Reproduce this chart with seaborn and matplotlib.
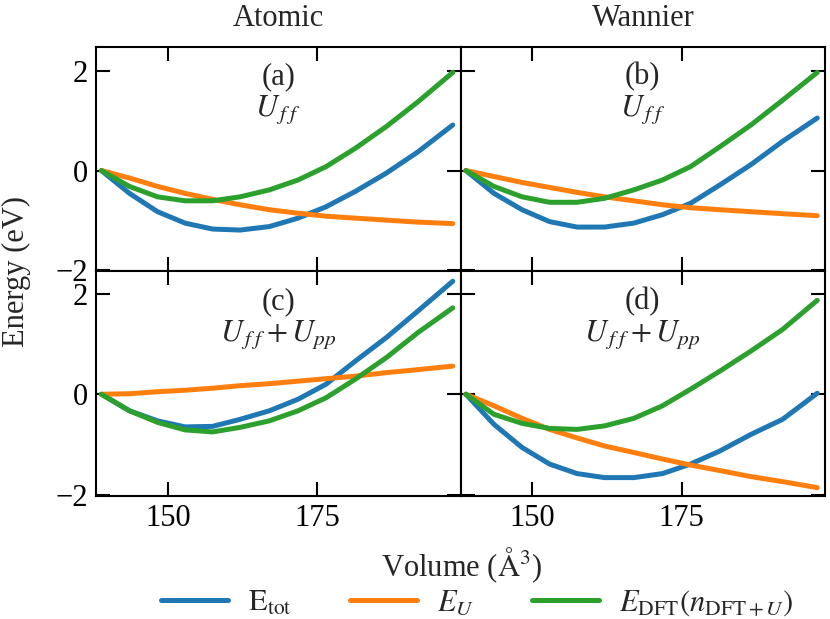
import numpy as np
import pandas as pd
import matplotlib
matplotlib.use("Agg")
import matplotlib.pyplot as plt
import seaborn as sns

# ---------------- data ----------------
volume = [138.9, 143.6, 148.3, 152.9, 157.5, 162.1, 167.0, 171.8, 176.5, 181.4, 186.6, 191.9, 197.7]

# (a) Atomic, U_ff
a_tot = [0.0, -0.46, -0.83, -1.06, -1.18, -1.20, -1.13, -0.96, -0.73, -0.42, -0.05, 0.38, 0.92]
a_U   = [0.0, -0.15, -0.32, -0.46, -0.58, -0.69, -0.79, -0.86, -0.92, -0.96, -1.00, -1.04, -1.07]
a_dft = [0.0, -0.32, -0.53, -0.61, -0.61, -0.53, -0.39, -0.19, 0.08, 0.45, 0.89, 1.39, 1.98]

# (b) Wannier, U_ff
b_tot = [0.0, -0.46, -0.79, -1.03, -1.14, -1.14, -1.06, -0.89, -0.66, -0.29, 0.12, 0.59, 1.06]
b_U   = [0.0, -0.12, -0.24, -0.34, -0.44, -0.53, -0.61, -0.69, -0.75, -0.79, -0.83, -0.87, -0.91]
b_dft = [0.0, -0.32, -0.53, -0.64, -0.64, -0.56, -0.39, -0.19, 0.08, 0.48, 0.92, 1.42, 1.98]

# (c) Atomic, U_ff + U_pp
c_tot = [0.0, -0.33, -0.53, -0.65, -0.64, -0.50, -0.33, -0.10, 0.20, 0.66, 1.13, 1.66, 2.25]
c_U   = [0.0, 0.01, 0.05, 0.08, 0.12, 0.17, 0.21, 0.26, 0.31, 0.36, 0.43, 0.49, 0.56]
c_dft = [0.0, -0.33, -0.56, -0.71, -0.75, -0.66, -0.53, -0.33, -0.07, 0.30, 0.73, 1.23, 1.72]

# (d) Wannier, U_ff + U_pp
d_tot = [0.0, -0.60, -1.06, -1.39, -1.58, -1.66, -1.66, -1.58, -1.39, -1.13, -0.80, -0.50, 0.02]
d_U   = [0.0, -0.23, -0.48, -0.70, -0.87, -1.03, -1.16, -1.29, -1.41, -1.52, -1.64, -1.74, -1.86]
d_dft = [0.0, -0.40, -0.58, -0.68, -0.70, -0.63, -0.48, -0.23, 0.10, 0.46, 0.86, 1.29, 1.87]

series_labels = [r"$\mathrm{E}_{\mathrm{tot}}$", r"$E_U$", r"$E_{\mathrm{DFT}}(n_{\mathrm{DFT}+U})$"]
series_colors = ["#1f77b4", "#ff7f0e", "#2ca02c"]
column_titles = ["Atomic", "Wannier"]
panel_tags = ["(a)", "(b)", "(c)", "(d)"]
panel_U = [r"$U_{\,f\;f}$", r"$U_{\,f\;f}$", r"$U_{\,f\;f}+U_{pp}$", r"$U_{\,f\;f}+U_{pp}$"]
x_ticks = [150, 175]
y_ticks = [-2, 0, 2]

panels = [(a_tot, a_U, a_dft), (b_tot, b_U, b_dft), (c_tot, c_U, c_dft), (d_tot, d_U, d_dft)]

FS = 22

# ---------------- style ----------------
sns.set_style("ticks")
plt.rcParams["font.family"] = ["Liberation Serif", "DejaVu Serif"]
plt.rcParams["mathtext.fontset"] = "stix"
plt.rcParams["font.size"] = FS
plt.rcParams["axes.linewidth"] = 1.5
plt.rcParams["axes.edgecolor"] = "black"
for ax_ in ("x", "y"):
    plt.rcParams[f"{ax_}tick.direction"] = "in"
    plt.rcParams[f"{ax_}tick.major.size"] = 10
    plt.rcParams[f"{ax_}tick.major.width"] = 1.5
    plt.rcParams[f"{ax_}tick.labelsize"] = FS
    plt.rcParams[f"{ax_}tick.color"] = "black"

fig, axes = plt.subplots(2, 2, figsize=(8.30, 6.19), dpi=100)
fig.subplots_adjust(left=0.1157, right=0.994, top=0.9246, bottom=0.1992,
                    wspace=0, hspace=0)

for i, ax in enumerate(axes.flat):
    tot, eu, dft = panels[i]
    df = pd.DataFrame({
        "volume": volume * 3,
        "energy": list(tot) + list(eu) + list(dft),
        "series": [series_labels[0]] * len(volume) + [series_labels[1]] * len(volume)
                  + [series_labels[2]] * len(volume),
    })
    sns.lineplot(data=df, x="volume", y="energy", hue="series",
                 hue_order=series_labels, palette=series_colors,
                 linewidth=3.6, legend=False, ax=ax)
    ax.set_xlim(138, 199)
    if i < 2:
        ax.set_ylim(-2.03, 2.5)
    else:
        ax.set_ylim(-2.02, 2.45)
    ax.set_xticks(x_ticks)
    ax.set_yticks(y_ticks)
    ax.set_xlabel("")
    ax.set_ylabel("")
    ax.tick_params(top=True, right=True, bottom=True, left=True, pad=6)
    if i < 2:
        ax.tick_params(labelbottom=False)
        ax.set_title(column_titles[i], pad=15, fontsize=FS)
    if i % 2 == 1:
        ax.tick_params(labelleft=False)
    ax.text(0.5, 0.866, panel_tags[i], transform=ax.transAxes,
            ha="center", va="center", fontsize=FS)
    ax.text(0.5, 0.72, panel_U[i], transform=ax.transAxes,
            ha="center", va="center", fontsize=FS)

fig.text(0.02, 0.5607, "Energy (eV)", rotation=90, ha="center", va="center", fontsize=FS)
fig.text(0.556, 0.087, r"Volume ($\mathrm{\AA}^3$)", ha="center", va="center", fontsize=FS)

handles = axes[0, 0].get_lines()[:3]
fig.legend(handles, series_labels, loc="center", bbox_to_anchor=(0.575, 0.026),
           ncol=3, frameon=False, fontsize=FS, handlelength=2.2,
           handletextpad=0.65, columnspacing=1.9, borderpad=0, borderaxespad=0)

fig.savefig("out.png", dpi=100)
